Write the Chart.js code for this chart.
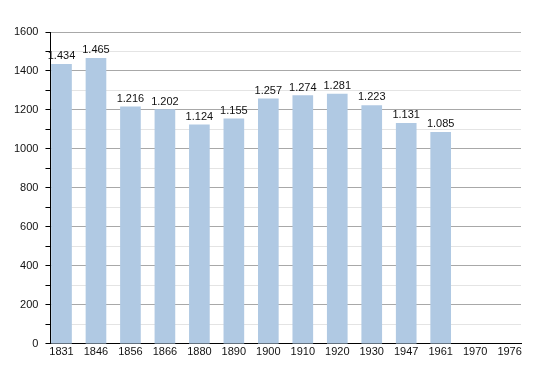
<!DOCTYPE html>
<html>
<head>
<meta charset="utf-8">
<script src="https://cdn.jsdelivr.net/npm/chart.js@4"></script>
<style>
  html, body { margin: 0; padding: 0; background: #fff; }
  #wrap { width: 550px; height: 373px; }
</style>
</head>
<body>
<div id="wrap"><canvas id="chart"></canvas></div>
<script>
const years = ["1831", "1846", "1856", "1866", "1880", "1890", "1900", "1910", "1920", "1930", "1947", "1961", "1970", "1976"];
const population = [1434, 1465, 1216, 1202, 1124, 1155, 1257, 1274, 1281, 1223, 1131, 1085, null, null];
const yTicks = [0, 200, 400, 600, 800, 1000, 1200, 1400, 1600];

const fmt = v => {
    const s = String(v);
    return s.length > 3 ? s.slice(0, -3) + "." + s.slice(-3) : s;
};

// valori sopra le colonne
const valueLabels = {
    id: "valueLabels",
    afterDatasetsDraw(chart) {
        const ctx = chart.ctx;
        const meta = chart.getDatasetMeta(0);
        ctx.save();
        ctx.font = "11px 'Liberation Sans', Arial, sans-serif";
        ctx.fillStyle = "#111";
        ctx.textAlign = "center";
        ctx.textBaseline = "alphabetic";
        meta.data.forEach((bar, i) => {
            const v = population[i];
            if (v == null) return;
            ctx.fillText(fmt(v), bar.x, bar.y - 5);
        });
        ctx.restore();
    }
};

const createChart = () => {
    const ctx = document.querySelector("canvas#chart");

    new Chart(ctx, {
        type: "bar",
        data: {
            datasets: [{
                data: population.map((v, i) => ({ x: i, y: v })),
                backgroundColor: "#b0c9e3",
                barThickness: 20,
                borderWidth: 0
            }]
        },
        options: {
            responsive: true,
            maintainAspectRatio: false,
            animation: false,
            layout: { padding: { top: 32, right: 29, left: 7, bottom: 12 } },
            plugins: {
                legend: { display: false },
                tooltip: { enabled: false }
            },
            scales: {
                x: {
                    type: "linear",
                    offset: false,
                    min: -0.32,
                    max: 13.33,
                    afterBuildTicks: scale => {
                        scale.ticks = years.map((_, i) => ({ value: i }));
                    },
                    ticks: {
                        autoSkip: false,
                        maxRotation: 0,
                        padding: 2,
                        color: "#111",
                        font: { family: "'Liberation Sans', Arial, sans-serif", size: 11 },
                        callback: v => years[v]
                    },
                    grid: { display: false, drawTicks: false },
                    border: { display: true, color: "#000", width: 1 }
                },
                y: {
                    min: 0,
                    max: 1600,
                    afterBuildTicks: scale => {
                        const t = [];
                        for (let v = 0; v <= 1600; v += 100) t.push({ value: v });
                        scale.ticks = t;
                    },
                    ticks: {
                        autoSkip: false,
                        padding: 7,
                        color: "#111",
                        font: { family: "'Liberation Sans', Arial, sans-serif", size: 11 },
                        callback: v => yTicks.includes(v) ? String(v) : ""
                    },
                    grid: {
                        color: c => (c.tick && c.tick.value % 200 === 0) ? "#a8a8a8" : "#e4e4e4",
                        tickColor: "#000",
                        tickLength: 5,
                        lineWidth: 1
                    },
                    border: { display: true, color: "#000", width: 1 }
                }
            }
        },
        plugins: [valueLabels]
    });
};

createChart();
</script>
</body>
</html>
